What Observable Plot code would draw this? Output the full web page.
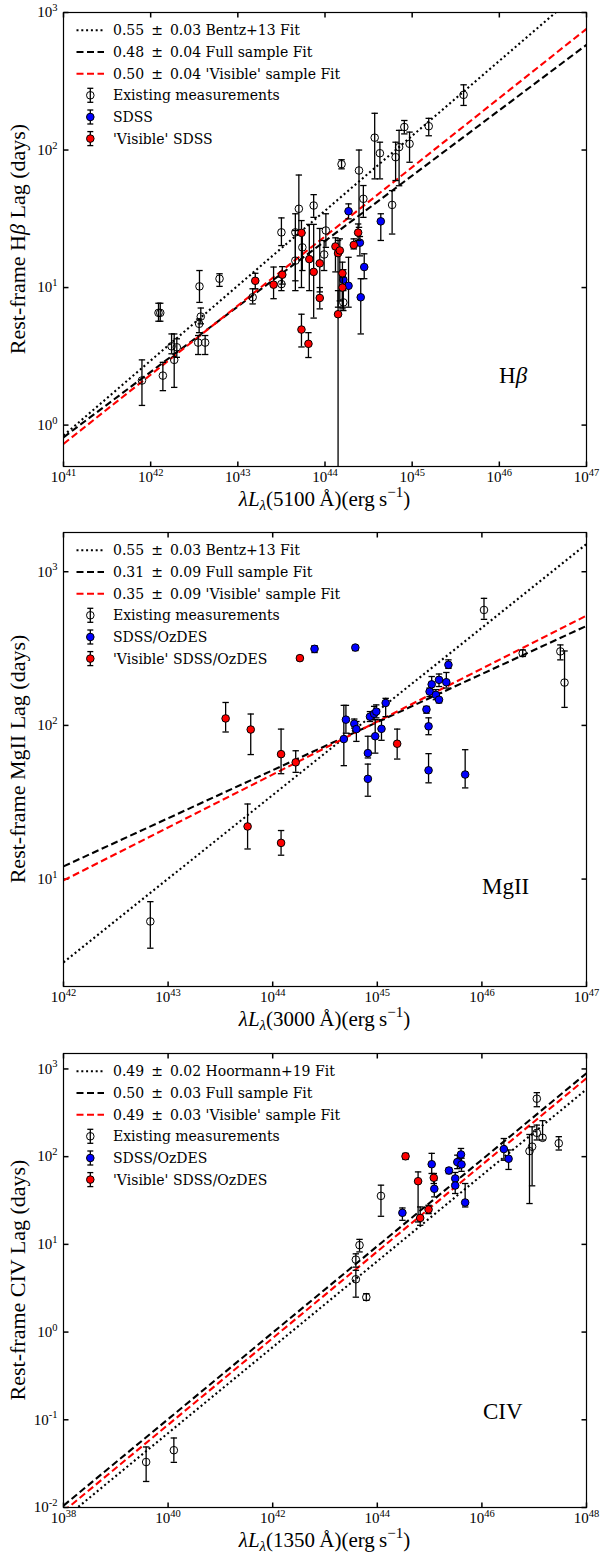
<!DOCTYPE html>
<html>
<head>
<meta charset="utf-8">
<script src="https://cdn.jsdelivr.net/npm/d3@7"></script>
<script src="https://cdn.jsdelivr.net/npm/@observablehq/plot@0.6"></script>
<style>
  body { margin: 0; background: #fff; }
  #chart { width: 600px; }
</style>
</head>
<body>
<div id="chart"></div>
<script>
// ---------- DATA (each point: [log10 luminosity, lag (days), lag lower, lag upper]) ----------
// Panel 1: H-beta
const hbExisting = [
  [41.90, 2.11, 1.39, 2.98], [42.14, 2.29, 1.78, 2.86], [42.09, 6.55, 5.69, 7.69], [42.11, 6.55, 5.69, 7.69],
  [42.24, 3.74, 3.3, 4.6], [42.30, 3.68, 3.11, 4.24], [42.27, 2.98, 1.88, 4.6], [42.56, 10.2, 7.8, 13.3],
  [42.575, 6.15, 5.45, 7.1], [42.556, 5.45, 4.7, 5.9], [42.545, 3.98, 3.26, 4.48], [42.625, 3.98, 3.26, 4.48],
  [42.79, 11.6, 10.2, 12.6], [43.17, 8.5, 7.6, 9.8], [43.50, 25.2, 20.2, 32.1], [43.50, 10.6, 9.5, 11.9],
  [43.66, 25.2, 11.2, 34.4], [43.70, 37.4, 26, 65.8], [43.66, 15.7, 9.5, 26], [43.74, 19.6, 13.3, 25],
  [43.87, 39.5, 32.4, 47.4], [44.01, 26, 19.6, 34.4], [43.99, 17.4, 13.3, 22], [44.44, 44.2, 32.4, 55.2],
  [44.77, 39.9, 24.5, 50.7], [44.21, 7.8, 6.8, 11.2], [44.19, 78.9, 73, 85], [44.39, 71, 27.4, 100],
  [44.57, 123, 61.7, 185], [44.63, 94.8, 61.7, 114], [44.81, 88.7, 60, 114], [44.85, 105, 55, 139],
  [44.91, 147, 131, 164], [44.97, 111, 81.5, 135], [45.19, 149, 127, 170], [45.59, 252, 211, 298]
];
const hbSDSS = [
  [44.27, 35.9, 31.6, 40.6], [44.64, 30.3, 22, 34.4], [44.40, 21.2, 17, 23.5], [44.45, 14.1, 11.6, 17.6],
  [44.21, 11.4, 9.5, 13.5], [44.27, 10.3, 7.2, 16.6], [44.41, 8.5, 4.6, 11.6]
];
const hbVisible = [
  [43.20, 11.2, 9.8, 12.7], [43.41, 10.5, 8.3, 14.1], [43.51, 12.4, 10.6, 14.2], [43.73, 25, 10, 30.7],
  [43.73, 4.95, 3.7, 6.4], [43.81, 3.9, 3.1, 4.7], [43.82, 16.1, 9.5, 28.8], [43.87, 13.0, 6.0, 28.8],
  [43.94, 15.0, 9.3, 26.9], [43.94, 8.4, 7.0, 10], [44.12, 19.9, 13, 23], [44.15, 17.8, 7.2, 22],
  [44.17, 18.6, 8, 22.6], [44.15, 6.4, 0.1, 9.5], [44.20, 12.7, 7.2, 15.3], [44.20, 10.0, 7.0, 11.9],
  [44.33, 20.4, 19.1, 22.6], [44.38, 25.1, 22, 29]
];
const hbFitRef = [[41, 0.84], [47, 1560]];
const hbFitFull = [[41, 0.815], [47, 582]];
const hbFitVisible = [[41, 0.73], [47, 760]];
const hbLegend = [["0.55", "0.03", "Bentz+13 Fit"], ["0.48", "0.04", "Full sample Fit"], ["0.50", "0.04", "'Visible' sample Fit"],
  "Existing measurements", "SDSS", "'Visible' SDSS"];
const hbXTicks = [1e41, 1e42, 1e43, 1e44, 1e45, 1e46, 1e47];
const hbYTicks = [1, 10, 100, 1000];

// Panel 2: MgII
const mgExisting = [
  [42.83, 5.3, 3.55, 7.13], [46.02, 564, 490, 671], [46.39, 295, 281, 310], [46.75, 303, 267, 334], [46.79, 190, 131, 305]
];
const mgSDSS = [
  [44.40, 315, 298, 330], [44.79, 321, 307, 330], [44.68, 81.5, 54.7, 135], [44.70, 109, 89, 135],
  [44.78, 102.6, 96, 110], [44.80, 94.6, 78.7, 106], [44.91, 66, 61.4, 85], [44.91, 44.9, 34.6, 56],
  [44.93, 114, 106, 123], [44.97, 119, 109, 133], [44.99, 123, 112, 136], [44.98, 85, 66, 109],
  [45.04, 95, 80, 109], [45.08, 140, 114, 150], [45.47, 127, 120, 133], [45.49, 98.6, 87, 112],
  [45.49, 51, 42.3, 65.5], [45.50, 166, 154, 175], [45.52, 185, 171, 208], [45.56, 158, 147, 171],
  [45.59, 147, 140, 162], [45.59, 198, 179, 216], [45.66, 191, 175, 221], [45.68, 248, 235, 267],
  [45.84, 47.9, 39.2, 69.5]
];
const mgVisible = [
  [43.55, 111, 90.6, 141], [43.79, 94, 64.6, 118.6], [44.08, 65, 48.5, 94.6], [44.22, 57.5, 49.5, 68.4],
  [44.26, 274, 264, 283], [43.76, 22, 15.7, 30.8], [44.08, 17.2, 14.3, 20.7], [45.19, 76, 60.4, 94.6]
];
const mgFitRef = [[42, 2.87], [47, 1514]];
const mgFitFull = [[42, 12.1], [47, 444]];
const mgFitVisible = [[42, 9.8], [47, 518]];
const mgLegend = [["0.55", "0.03", "Bentz+13 Fit"], ["0.31", "0.09", "Full sample Fit"], ["0.35", "0.09", "'Visible' sample Fit"],
  "Existing measurements", "SDSS/OzDES", "'Visible' SDSS/OzDES"];
const mgXTicks = [1e42, 1e43, 1e44, 1e45, 1e46, 1e47];
const mgYTicks = [10, 100, 1000];

// Panel 3: CIV
const civExisting = [
  [39.58, 0.033, 0.0198, 0.049], [40.11, 0.045, 0.0327, 0.062], [43.59, 6.7, 5.5, 7.8], [43.66, 9.8, 8.2, 11.4],
  [43.59, 4.0, 2.5, 5.06], [43.79, 2.5, 2.3, 2.74], [44.07, 35.7, 20.9, 47.3], [46.91, 115.6, 29.2, 179],
  [46.96, 130, 46.5, 219], [47.05, 458, 371, 537], [47.05, 187, 155, 229], [47.16, 164, 155, 257],
  [47.47, 142, 119, 169]
];
const civSDSS = [
  [44.48, 22.9, 18.8, 26], [45.04, 82, 64.3, 109], [45.09, 43, 34.8, 54], [45.37, 69.5, 64, 75],
  [45.49, 56.4, 48, 66], [45.49, 46.9, 38, 54], [45.53, 86.7, 73, 104], [45.60, 106, 87, 124],
  [45.61, 81.5, 68, 96], [45.68, 30, 26.7, 49.4], [46.42, 122, 91, 161], [46.51, 94.6, 71.5, 119]
];
const civVisible = [
  [44.54, 101, 93, 109], [44.78, 52.5, 18, 67], [44.82, 20, 16.5, 26.7], [44.98, 25, 22.4, 27.9], [45.08, 57.4, 49.4, 64.3]
];
const civFitRef = [[38, 0.00738], [48, 586]];
const civFitFull = [[38, 0.0105], [48, 894]];
const civFitVisible = [[38, 0.00903], [48, 783]];
const civLegend = [["0.49", "0.02", "Hoormann+19 Fit"], ["0.50", "0.03", "Full sample Fit"], ["0.49", "0.03", "'Visible' sample Fit"],
  "Existing measurements", "SDSS/OzDES", "'Visible' SDSS/OzDES"];
const civXTicks = [1e38, 1e40, 1e42, 1e44, 1e46, 1e48];
const civYTicks = [0.01, 0.1, 1, 10, 100, 1000];

// ---------- DRAWING ----------
const FONT = "DejaVu Serif";
const MATH = "Liberation Serif";
const RED = "#ff0000", BLUE = "#0000ff";
const DOT = "2,2.8", DASH = "7,3.5";
const rOf = s => Math.sqrt(s / Math.PI);
const capSym = {draw(c, s) { const r = rOf(s); c.moveTo(-r, 0); c.lineTo(r, 0); }};
const tUp = {draw(c, s) { c.moveTo(0, 0); c.lineTo(0, -rOf(s)); }};
const tDown = {draw(c, s) { c.moveTo(0, 0); c.lineTo(0, rOf(s)); }};
const tRight = {draw(c, s) { c.moveTo(0, 0); c.lineTo(rOf(s), 0); }};
const tLeft = {draw(c, s) { c.moveTo(0, 0); c.lineTo(-rOf(s), 0); }};
const fmt = d => "10^" + Math.round(Math.log10(d));
const X = d => 10 ** d[0];

function errMarks(data, fill) {
  const common = {stroke: "black", strokeWidth: 1.3, clip: true};
  return [
    Plot.ruleX(data, {x: X, y1: d => d[2], y2: d => d[3], ...common}),
    Plot.dot(data, {x: X, y: d => d[2], symbol: capSym, r: 3.2, fill: "none", ...common}),
    Plot.dot(data, {x: X, y: d => d[3], symbol: capSym, r: 3.2, fill: "none", ...common}),
    Plot.dot(data, {x: X, y: d => d[1], r: 3.8, fill, stroke: "black", strokeWidth: 1})
  ];
}

function fitMarks(ref, full, vis) {
  const c = {x: X, y: d => d[1], strokeWidth: 2.1, clip: true, strokeLinecap: "butt"};
  return [
    Plot.line(ref, {...c, stroke: "black", strokeDasharray: DOT}),
    Plot.line(full, {...c, stroke: "black", strokeDasharray: DASH}),
    Plot.line(vis, {...c, stroke: RED, strokeDasharray: DASH})
  ];
}

function makePanel(o) {
  const plot = Plot.plot({
    width: 600, height: o.height,
    marginLeft: 63, marginRight: 14, marginTop: o.mt, marginBottom: o.mb,
    style: {fontFamily: MATH, fontSize: "15px", color: "black", background: "white", overflow: "visible"},
    x: {type: "log", domain: o.xDomain},
    y: {type: "log", domain: o.yDomain},
    marks: [
      Plot.axisX(o.xTicks, {anchor: "bottom", tickSize: 0, tickPadding: 5, tickFormat: fmt, label: null, fontSize: 15}),
      Plot.axisY(o.yTicks, {anchor: "left", tickSize: 0, tickPadding: 6, tickFormat: fmt, label: null, fontSize: 15}),
      Plot.dot(o.xTicks, {x: d => d, frameAnchor: "bottom", symbol: tUp, r: 5, stroke: "black", fill: "none"}),
      Plot.dot(o.xTicks, {x: d => d, frameAnchor: "top", symbol: tDown, r: 5, stroke: "black", fill: "none"}),
      Plot.dot(o.yTicks, {y: d => d, frameAnchor: "left", symbol: tRight, r: 5, stroke: "black", fill: "none"}),
      Plot.dot(o.yTicks, {y: d => d, frameAnchor: "right", symbol: tLeft, r: 5, stroke: "black", fill: "none"}),
      ...fitMarks(o.fits[0], o.fits[1], o.fits[2]),
      ...errMarks(o.existing, "none"),
      ...errMarks(o.sdss, BLUE),
      ...errMarks(o.visible, RED),
      Plot.frame({stroke: "black", strokeWidth: 1.2})
    ]
  });

  const svg = d3.select(plot);
  // superscript tick labels
  svg.selectAll('g[aria-label$="tick label"] text').each(function () {
    const m = this.textContent.match(/^10\^(.+)$/);
    if (!m) return;
    const el = d3.select(this);
    el.text(null);
    el.append("tspan").text("10");
    el.append("tspan").attr("font-size", "10.5px").attr("dy", "-0.6em").text(m[1]);
  });

  const sx = plot.scale("x"), sy = plot.scale("y");
  const [L, R] = sx.range;
  const [B, T] = sy.range;
  const top = Math.min(B, T), bottom = Math.max(B, T);

  // y label
  const yl = svg.append("text")
    .attr("transform", `translate(17,${(top + bottom) / 2}) rotate(-90)`)
    .attr("text-anchor", "middle").attr("dominant-baseline", "central")
    .attr("font-family", MATH).attr("font-size", 22).attr("fill", "black");
  o.yLabel.forEach(([t, it]) => yl.append("tspan").attr("font-style", it ? "italic" : null).text(t));

  // x label
  const xl = svg.append("text")
    .attr("x", (L + R) / 2).attr("y", bottom + 40)
    .attr("text-anchor", "middle").attr("font-family", MATH).attr("font-size", 21).attr("fill", "black");
  xl.append("tspan").attr("font-style", "italic").text("λL");
  xl.append("tspan").attr("font-style", "italic").attr("font-size", 15).attr("dy", 4).text("λ");
  xl.append("tspan").attr("dy", -4).text(`(${o.wave}\u2009Å)(erg\u2009s`);
  xl.append("tspan").attr("font-size", 15).attr("dy", -9).text("−1");
  xl.append("tspan").attr("dy", 9).text(")");

  // panel name
  const pn = svg.append("text").attr("x", o.nameX).attr("y", top + o.nameDY).attr("text-anchor", "start")
    .attr("font-family", MATH).attr("font-size", 23).attr("fill", "black");
  o.name.forEach(([t, it]) => pn.append("tspan").attr("font-style", it ? "italic" : null).text(t));

  // legend
  const g = svg.append("g").attr("font-family", FONT).attr("font-size", 14).attr("fill", "black").attr("text-anchor", "start");
  const rows = [18.3, 40, 61.7, 83.3, 105, 126.6];
  const lineStyles = [["black", DOT], ["black", DASH], [RED, DASH]];
  const fills = ["none", BLUE, RED];
  rows.forEach((dy, i) => {
    const cy = top + dy;
    if (i < 3) {
      g.append("line").attr("x1", L + 13.5).attr("x2", L + 41).attr("y1", cy).attr("y2", cy)
        .attr("stroke", lineStyles[i][0]).attr("stroke-width", 2.1).attr("stroke-dasharray", lineStyles[i][1]);
    } else {
      const cx = L + 27.3;
      g.append("line").attr("x1", cx).attr("x2", cx).attr("y1", cy - 7).attr("y2", cy + 7).attr("stroke", "black").attr("stroke-width", 1.3);
      g.append("line").attr("x1", cx - 3).attr("x2", cx + 3).attr("y1", cy - 7).attr("y2", cy - 7).attr("stroke", "black").attr("stroke-width", 1.3);
      g.append("line").attr("x1", cx - 3).attr("x2", cx + 3).attr("y1", cy + 7).attr("y2", cy + 7).attr("stroke", "black").attr("stroke-width", 1.3);
      g.append("circle").attr("cx", cx).attr("cy", cy).attr("r", 3.8).attr("fill", fills[i - 3]).attr("stroke", "black");
    }
    const t = g.append("text").attr("x", L + 50).attr("y", cy + 5);
    const item = o.legend[i];
    if (Array.isArray(item)) {
      t.append("tspan").text(item[0]);
      t.append("tspan").attr("dx", 7).text("±");
      t.append("tspan").attr("dx", 7).text(item[1]);
      t.append("tspan").text(" " + item[2]);
    } else {
      t.text(item);
    }
  });
  return plot;
}

const root = document.getElementById("chart");
root.append(makePanel({
  height: 520, mt: 12, mb: 54, xDomain: [1e41, 1e47], yDomain: [0.5, 1000],
  xTicks: hbXTicks, yTicks: hbYTicks, existing: hbExisting, sdss: hbSDSS, visible: hbVisible,
  fits: [hbFitRef, hbFitFull, hbFitVisible], legend: hbLegend, wave: "5100",
  yLabel: [["Rest-frame H", false], ["β", true], [" Lag (days)", false]],
  name: [["H", false], ["β", true]], nameX: 499, nameDY: 371
}));
root.append(makePanel({
  height: 520, mt: 12, mb: 54, xDomain: [1e42, 1e47], yDomain: [2, 1800],
  xTicks: mgXTicks, yTicks: mgYTicks, existing: mgExisting, sdss: mgSDSS, visible: mgVisible,
  fits: [mgFitRef, mgFitFull, mgFitVisible], legend: mgLegend, wave: "3000",
  yLabel: [["Rest-frame MgII Lag (days)", false]],
  name: [["MgII", false]], nameX: 482, nameDY: 362
}));
root.append(makePanel({
  height: 514, mt: 13, mb: 47, xDomain: [1e38, 1e48], yDomain: [0.01, 1500],
  xTicks: civXTicks, yTicks: civYTicks, existing: civExisting, sdss: civSDSS, visible: civVisible,
  fits: [civFitRef, civFitFull, civFitVisible], legend: civLegend, wave: "1350",
  yLabel: [["Rest-frame CIV Lag (days)", false]],
  name: [["CIV", false]], nameX: 483, nameDY: 366
}));
</script>
</body>
</html>
